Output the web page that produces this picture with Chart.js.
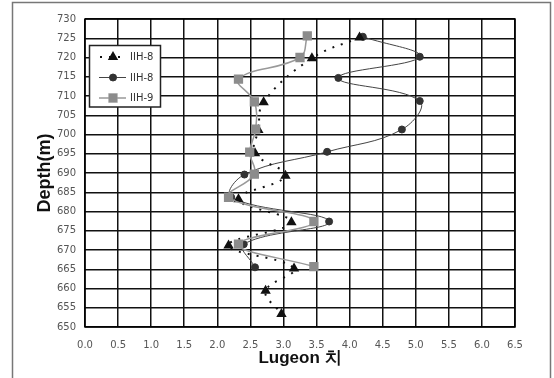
<!DOCTYPE html>
<html>
<head>
<meta charset="utf-8">
<script src="https://cdn.jsdelivr.net/npm/chart.js@4"></script>
<style>
html,body{margin:0;padding:0;background:#fff;}
#wrap{width:554px;height:378px;position:relative;}
</style>
</head>
<body>
<div id="wrap"><canvas id="c" width="554" height="378"></canvas></div>
<script>
// Series labels
const seriesLabels = ['IIH-8', 'IIH-8', 'IIH-9'];

// Series 1 (triangles, dotted)
const depth1   = [725.2, 719.8, 708.4, 701.2, 695.1, 689.3, 683.2, 677.2, 671.2, 665.2, 659.4, 653.4];
const lugeon1  = [4.15, 3.43, 2.70, 2.62, 2.57, 3.03, 2.32, 3.12, 2.17, 3.16, 2.73, 2.97];

// Series 2 (circles, solid)
const depth2   = [725.4, 720.2, 714.7, 708.7, 701.3, 695.5, 689.6, 683.7, 677.4, 671.5, 665.5];
const lugeon2  = [4.20, 5.06, 3.83, 5.06, 4.79, 3.66, 2.41, 2.21, 3.69, 2.40, 2.57];

// Series 3 (squares, grey)
const depth3   = [725.6, 720.0, 714.4, 708.5, 701.4, 695.4, 689.7, 683.7, 677.4, 671.5, 665.7];
const lugeon3  = [3.36, 3.25, 2.32, 2.56, 2.58, 2.49, 2.56, 2.17, 3.46, 2.32, 3.46];

// Axis ranges / ticks
const xMin = 0, xMax = 6.5, xStep = 0.5;
const yMin = 650, yMax = 730, yStep = 5;
const xTitle = 'Lugeon 치';
const yTitle = 'Depth(m)';

function pts(xs, ys){ return xs.map((x,i)=>({x:x, y:ys[i]})); }

const frame = {
  id:'frame',
  beforeDraw(chart){
    const ctx = chart.ctx;
    ctx.save();
    ctx.fillStyle='#fff';
    ctx.fillRect(0,0,chart.width,chart.height);
    ctx.strokeStyle='#777';
    ctx.lineWidth=1.5;
    ctx.strokeRect(12.5,2.5,538,420);
    ctx.restore();
  },
  afterDatasetsDraw(chart){
    const a = chart.chartArea, ctx = chart.ctx;
    ctx.save();
    ctx.strokeStyle='#000';
    ctx.lineWidth=1.5;
    ctx.strokeRect(a.left, a.top, a.right-a.left, a.bottom-a.top);
    // legend box
    const bx=89.5, by=45.5, bw=71, bh=61.5;
    ctx.fillStyle='#fff';
    ctx.fillRect(bx,by,bw,bh);
    ctx.strokeStyle='#222';
    ctx.lineWidth=1.5;
    ctx.strokeRect(bx,by,bw,bh);
    const rows=[57,77.5,98];
    chart.data.datasets.forEach((ds,i)=>{
      const y=rows[i];
      ctx.save();
      ctx.strokeStyle=ds.borderColor;
      ctx.lineWidth=ds.borderWidth;
      ctx.setLineDash(ds.borderDash||[]);
      ctx.beginPath();
      if(ds.borderDash){ ctx.moveTo(100,y); ctx.lineTo(126,y); }
      else { ctx.moveTo(99,y); ctx.lineTo(126,y); }
      ctx.stroke();
      ctx.setLineDash([]);
      Chart.helpers.drawPoint(ctx,{pointStyle:ds.pointStyle, radius:ds.pointRadius, borderWidth:1, rotation:0}, 113, y);
      ctx.fillStyle=ds.pointBackgroundColor;
      ctx.strokeStyle=ds.pointBorderColor;
      ctx.fill();
      ctx.restore();
      ctx.fillStyle='#333';
      ctx.font='10px "DejaVu Sans"';
      ctx.textBaseline='middle';
      ctx.fillText(seriesLabels[i], 130, y+0.5);
    });
    ctx.restore();
  }
};

new Chart(document.getElementById('c'), {
  type:'scatter',
  data:{
    datasets:[
      {
        label: seriesLabels[0],
        data: pts(lugeon1, depth1),
        showLine:true, tension:0.4,
        borderColor:'#111', borderWidth:2, borderDash:[2,7],
        pointStyle:'triangle', pointRadius:4,
        pointBackgroundColor:'#111', pointBorderColor:'#111',
        order:1
      },
      {
        label: seriesLabels[1],
        data: pts(lugeon2, depth2),
        showLine:true, tension:0.4,
        borderColor:'#444', borderWidth:1,
        pointStyle:'circle', pointRadius:3.5,
        pointBackgroundColor:'#333', pointBorderColor:'#333',
        order:2
      },
      {
        label: seriesLabels[2],
        data: pts(lugeon3, depth3),
        showLine:true, tension:0.4,
        borderColor:'#999', borderWidth:1.5,
        pointStyle:'rect', pointRadius:5.5,
        pointBackgroundColor:'#8c8c8c', pointBorderColor:'#8c8c8c',
        order:0
      }
    ]
  },
  options:{
    responsive:false,
    animation:false,
    devicePixelRatio:1,
    layout:{padding:{left:0,right:39,top:19,bottom:0}},
    plugins:{legend:{display:false}, tooltip:{enabled:false}},
    scales:{
      x:{
        type:'linear', position:'bottom', min:xMin, max:xMax,
        ticks:{stepSize:xStep, padding:12, color:'#555', font:{family:'DejaVu Sans', size:10},
               callback:v=>Number(v).toFixed(1), maxRotation:0, autoSkip:false},
        grid:{color:'#111', lineWidth:1.5, drawTicks:false},
        border:{display:false},
        title:{display:true, text:xTitle, color:'#111', font:{family:'Liberation Sans', size:17, weight:'bold'}, padding:{top:0,bottom:9}},
        afterFit(s){ s.height=51; }
      },
      y:{
        type:'linear', min:yMin, max:yMax,
        ticks:{stepSize:yStep, padding:9, color:'#555', font:{family:'DejaVu Sans', size:10}, autoSkip:false},
        grid:{color:'#111', lineWidth:1.5, drawTicks:false},
        border:{display:false},
        title:{display:true, text:yTitle, color:'#111', font:{family:'Liberation Sans', size:18, weight:'bold'}, padding:{top:34,bottom:0}},
        afterFit(s){ s.width=85; }
      }
    }
  },
  plugins:[frame]
});
</script>
</body>
</html>
